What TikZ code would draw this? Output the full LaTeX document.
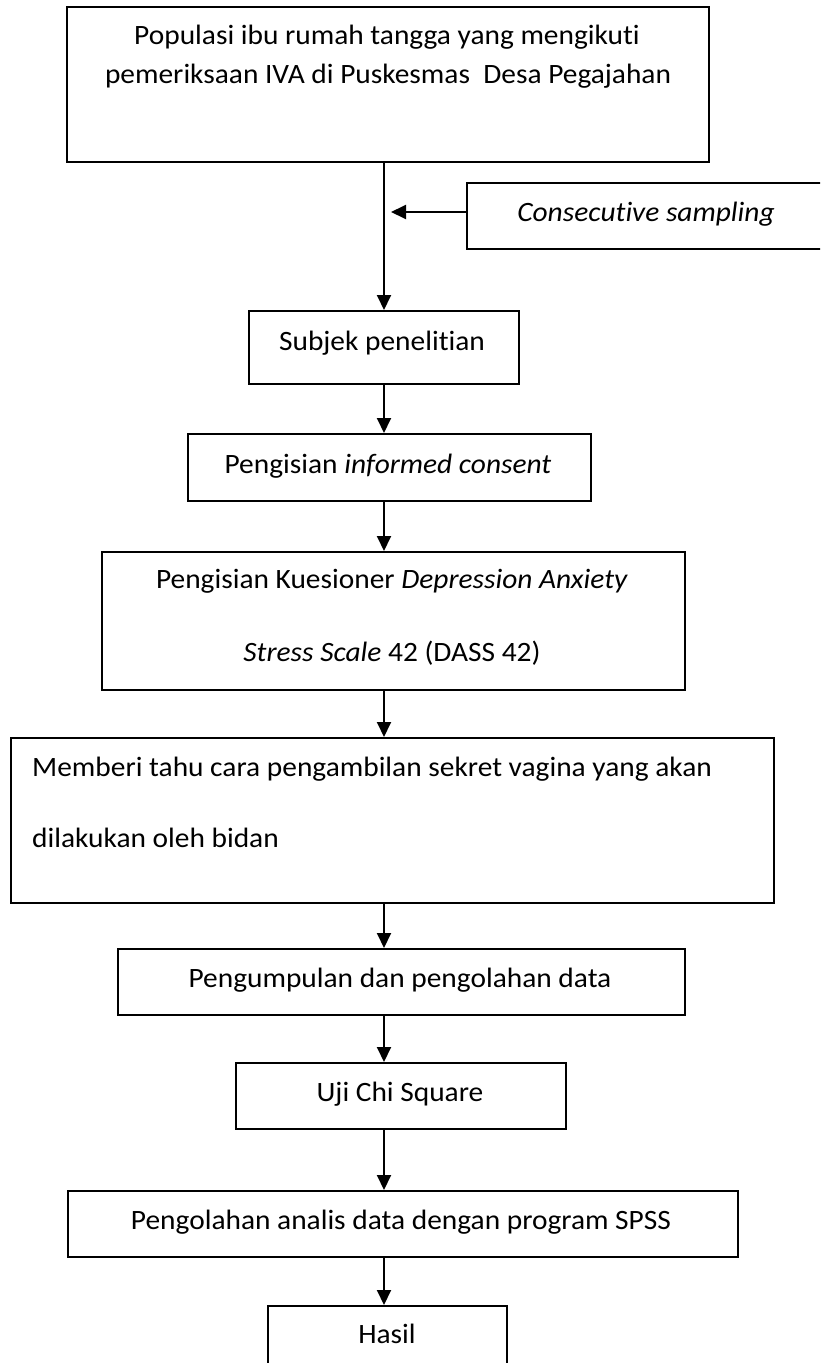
\documentclass[tikz,border=0pt]{standalone}
\usepackage{fontspec}
\setmainfont{Carlito}[FakeStretch=1.05, Ligatures=NoCommon]
\usetikzlibrary{arrows.meta}
\begin{document}
\begin{tikzpicture}[x=1pt,y=-1pt,
  box/.style={draw=black, line width=1.9pt, rectangle, inner sep=0pt, anchor=north west},
  txt/.style={anchor=base, inner sep=0pt, font=\fontsize{28}{33}\selectfont},
  txtl/.style={txt, anchor=base west},
  arr/.style={draw=black, line width=1.9pt, -{Triangle[length=15pt,width=14pt]}}]
\useasboundingbox (0,0) rectangle (820,1363);
\clip (0,0) rectangle (820,1363);
% boxes
\node[box, minimum width=642pt, minimum height=155pt] (b1) at (66,6) {};
\node[box, minimum width=380pt, minimum height=66pt] (cs) at (466,182) {};
\node[box, minimum width=270pt, minimum height=73pt] (b2) at (248,310) {};
\node[box, minimum width=403pt, minimum height=67pt] (b3) at (187,433) {};
\node[box, minimum width=583pt, minimum height=138pt] (b4) at (101,551) {};
\node[box, minimum width=763pt, minimum height=165pt] (b5) at (10,737) {};
\node[box, minimum width=567pt, minimum height=66pt] (b6) at (117,948) {};
\node[box, minimum width=330pt, minimum height=66pt] (b7) at (235,1062) {};
\node[box, minimum width=670pt, minimum height=66pt] (b8) at (67,1190) {};
\node[box, minimum width=239pt, minimum height=110pt] (b9) at (267,1305) {};
% texts
\node[txt] (t1a) at (387,44) {Populasi ibu rumah tangga yang mengikuti};
\node[txt] (t1b) at (388,83) {pemeriksaan IVA di Puskesmas~ Desa Pegajahan};
\node[txt] (tcs) at (646,221) {\textit{Consecutive sampling}};
\node[txt] (t2) at (382,350) {Subjek penelitian};
\node[txt] (t3) at (388,473) {Pengisian \textit{informed consent}};
\node[txt] (t4a) at (392,588) {Pengisian Kuesioner \textit{Depression Anxiety}};
\node[txt] (t4b) at (392,661) {\textit{Stress Scale} 42 (DASS 42)};
\node[txtl] (t5a) at (32,776) {Memberi tahu cara pengambilan sekret vagina yang akan};
\node[txtl] (t5b) at (32,847) {dilakukan oleh bidan};
\node[txt] (t6) at (400,987) {Pengumpulan dan pengolahan data};
\node[txt] (t7) at (400,1101) {Uji Chi Square};
\node[txt] (t8) at (401,1229) {Pengolahan analis data dengan program SPSS};
\node[txt] (t9) at (387,1343) {Hasil};
% connectors
\coordinate (axis) at (384,0);
\coordinate (tip) at (391,212);
\draw[arr] (b1.south -| axis) -- (b2.north -| axis);
\draw[arr] (cs.west |- tip) -- (tip);
\draw[arr] (b2.south -| axis) -- (b3.north -| axis);
\draw[arr] (b3.south -| axis) -- (b4.north -| axis);
\draw[arr] (b4.south -| axis) -- (b5.north -| axis);
\draw[arr] (b5.south -| axis) -- (b6.north -| axis);
\draw[arr] (b6.south -| axis) -- (b7.north -| axis);
\draw[arr] (b7.south -| axis) -- (b8.north -| axis);
\draw[arr] (b8.south -| axis) -- (b9.north -| axis);
\end{tikzpicture}
\end{document}
